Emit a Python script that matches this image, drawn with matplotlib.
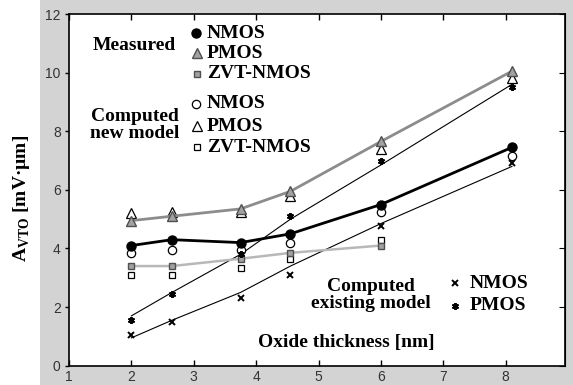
import matplotlib
matplotlib.use("Agg")
import matplotlib.pyplot as plt
from matplotlib.patches import Rectangle

# oxide thickness [nm]
tox = [2, 2.65, 3.75, 4.55, 6, 8.1]

# measured
nmos_meas = [4.1, 4.3, 4.2, 4.5, 5.5, 7.45]
pmos_meas = [4.95, 5.1, 5.35, 5.95, 7.65, 10.05]
zvt_meas = [3.4, 3.4, 3.65, 3.85, 4.1]

# computed, new model
nmos_new = [3.85, 3.95, 3.95, 4.2, 5.25, 7.15]
pmos_new = [5.2, 5.25, 5.25, 5.8, 7.4, 9.8]
zvt_new = [3.1, 3.1, 3.35, 3.65, 4.3]

# computed, existing model (points and drawn curve)
nmos_exist = [1.05, 1.5, 2.3, 3.1, 4.75, 6.9]
pmos_exist = [1.55, 2.45, 3.8, 5.1, 7.0, 9.5]
nmos_exist_line = [0.95, 1.55, 2.5, 3.4, 4.85, 6.8]
pmos_exist_line = [1.7, 2.5, 3.8, 5.0, 6.85, 9.6]

yticks = [0, 2, 4, 6, 8, 10, 12]
xticks = [1, 2, 3, 4, 5, 6, 7, 8]

serif = "Liberation Serif"
fs = 14

fig = plt.figure(figsize=(5.73, 3.85), dpi=100, facecolor="white")
fig.patches.append(Rectangle((40 / 573, 0), 1, 1, transform=fig.transFigure,
                             facecolor="#d3d3d3", edgecolor="none", zorder=-10))
ax = fig.add_axes([69 / 573, 19.3 / 385, 496 / 573, 351.7 / 385])
ax.set_facecolor("white")

gray_fill = "#a2a2a2"
gray_edge = "#505050"

# existing model curves + points
ax.plot(tox, nmos_exist_line, color="black", lw=0.8, zorder=2)
ax.plot(tox, pmos_exist_line, color="black", lw=0.8, zorder=2)
ax.plot(tox, nmos_exist, ls="none", marker="x", ms=4, mew=1.4, color="black", zorder=4)
ax.plot(tox, pmos_exist, ls="none", marker=(6, 2, 0), ms=5, mew=1.4, color="black", zorder=4)

# measured
ax.plot(tox, pmos_meas, color="#8c8c8c", lw=2, marker="^", ms=7,
        mfc=gray_fill, mec=gray_edge, zorder=3)
ax.plot(tox[:5], zvt_meas, color="#b8b8b8", lw=1.8, marker="s", ms=5,
        mfc=gray_fill, mec=gray_edge, zorder=3)
ax.plot(tox, nmos_meas, color="black", lw=2, marker="o", ms=6.5,
        mfc="black", mec="black", zorder=5)

# computed new model
ax.plot(tox, nmos_new, ls="none", marker="o", ms=6, mfc="white", mec="black", mew=0.9, zorder=3)
ax.plot(tox, pmos_new, ls="none", marker="^", ms=7, mfc="white", mec="black", mew=0.9, zorder=2.5)
ax.plot(tox[:5], zvt_new, ls="none", marker="s", ms=5, mfc="white", mec="black", mew=0.9, zorder=2.5)

ax.set_xlim(1, 8.95)
ax.set_ylim(0, 12)
ax.set_xticks(xticks)
ax.set_yticks(yticks)
ax.tick_params(axis="x", direction="in", top=True, length=4, width=1,
               labelsize=10, labelcolor="#333333", pad=3)
ax.tick_params(axis="y", direction="out", length=3, width=1,
               labelsize=10, labelcolor="#333333", pad=3)
for lab in ax.get_xticklabels() + ax.get_yticklabels():
    lab.set_family("Liberation Sans")
sec = ax.secondary_yaxis("right")
sec.set_yticks(yticks)
sec.tick_params(direction="in", length=4, labelright=False)
for sp in ax.spines.values():
    sp.set_linewidth(1.2)

def px(x, y):
    return (x - 69) / 496, (365.7 - y) / 351.7

tk = dict(transform=ax.transAxes, clip_on=False)
txt = dict(family=serif, weight="bold", fontsize=fs, transform=ax.transAxes,
           va="center")

# legend block: measured
ax.plot(*px(196, 33), marker="o", ms=6.5, color="black", **tk)
ax.plot(*px(197, 53), marker="^", ms=7, mfc=gray_fill, mec=gray_edge, **tk)
ax.plot(*px(197, 74), marker="s", ms=5, mfc=gray_fill, mec=gray_edge, **tk)
for lab, y in zip(["NMOS", "PMOS", "ZVT-NMOS"], [33, 53, 74]):
    ax.text(*px(207, y), lab, ha="left", **txt)
ax.text(*px(134, 45), "Measured", ha="center", **txt)

# legend block: computed new model
ax.plot(*px(196, 104), marker="o", ms=6, mfc="white", mec="black", mew=0.9, **tk)
ax.plot(*px(197, 126), marker="^", ms=7, mfc="white", mec="black", mew=0.9, **tk)
ax.plot(*px(197, 147), marker="s", ms=5, mfc="white", mec="black", mew=0.9, **tk)
for lab, y in zip(["NMOS", "PMOS", "ZVT-NMOS"], [104, 126, 147]):
    ax.text(*px(207, y), lab, ha="left", **txt)
ax.text(*px(135, 125), "Computed\nnew model", ha="center", linespacing=1.0, **txt)

# legend block: computed existing model
ax.plot(*px(455, 283), marker="x", ms=4, mew=1.4, color="black", **tk)
ax.plot(*px(455, 306), marker=(6, 2, 0), ms=5, mew=1.4, color="black", **tk)
ax.text(*px(470, 283), "NMOS", ha="left", **txt)
ax.text(*px(470, 305), "PMOS", ha="left", **txt)
ax.text(*px(371, 295), "Computed\nexisting model", ha="center", linespacing=1.0, **txt)

# axis titles
ax.text(*px(346, 343), "Oxide thickness [nm]", ha="center", **txt)
fig.text(22 / 573, 1 - 198 / 385, "A$_{\\mathregular{VTO}}$ [mV·µm]", rotation=90,
         ha="center", va="center", family=serif, weight="bold", fontsize=fs)

fig.savefig("out.png", dpi=100)
